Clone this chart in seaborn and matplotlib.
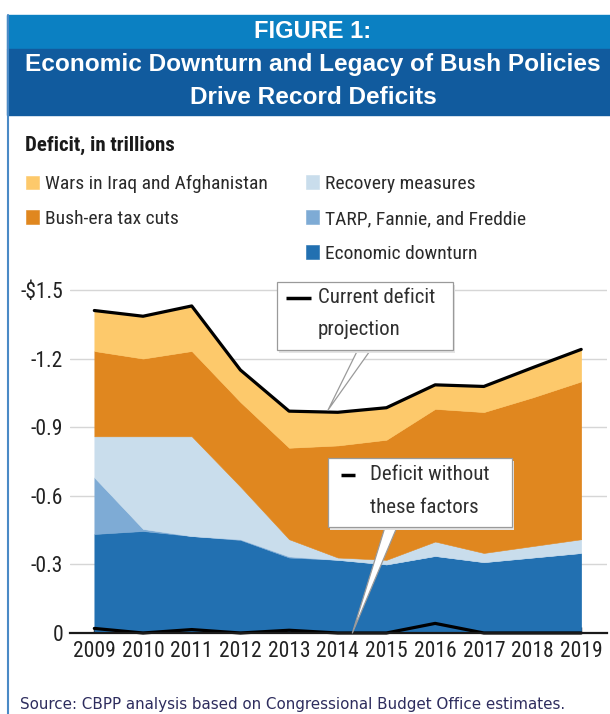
import matplotlib.pyplot as plt
import seaborn as sns
import pandas as pd
from matplotlib import font_manager
from matplotlib.patches import Rectangle

years = list(range(2009, 2020))
downturn = [0.433, 0.446, 0.424, 0.407, 0.33, 0.32, 0.30, 0.337, 0.31, 0.33, 0.35]
tarp = [0.247, 0.009, 0.0, 0.003, 0.005, 0.0, 0.0, 0.0, 0.0, 0.0, 0.0]
recovery = [0.18, 0.405, 0.436, 0.23, 0.075, 0.01, 0.02, 0.063, 0.04, 0.05, 0.06]
tax_cuts = [0.373, 0.34, 0.373, 0.37, 0.40, 0.49, 0.525, 0.58, 0.616, 0.65, 0.69]
wars = [0.177, 0.185, 0.197, 0.14, 0.16, 0.145, 0.14, 0.105, 0.112, 0.13, 0.14]
current_deficit = [1.41, 1.385, 1.43, 1.15, 0.97, 0.965, 0.985, 1.085, 1.078, 1.16, 1.24]
no_factors = [0.02, 0.0, 0.015, 0.0, 0.012, 0.0, 0.0, 0.042, 0.0, 0.0, 0.0]

series_labels = ['Economic downturn', 'TARP, Fannie, and Freddie', 'Recovery measures',
                 'Bush-era tax cuts', 'Wars in Iraq and Afghanistan']
series_colors = ['#2270b1', '#7eabd5', '#c9ddec', '#e0871f', '#fdc96b']
ytick_vals = [0, 0.3, 0.6, 0.9, 1.2, 1.5]
ytick_labels = ['0', '-0.3', '-0.6', '-0.9', '-1.2', '-$1.5']

sns.set_style('white')

# look for a condensed face; the original uses a narrow type
fonts = font_manager.fontManager.ttflist
names = {f.name for f in fonts}
narrow, stretch, k = 'DejaVu Sans', 'normal', 0.78
for nm in ['Roboto Condensed', 'Liberation Sans Narrow', 'Open Sans Condensed',
           'Noto Sans Condensed', 'DejaVu Sans Condensed', 'Arial Narrow']:
    if nm in names:
        narrow, k = nm, 1.0
        break
else:
    for base in ['Roboto', 'Noto Sans', 'Open Sans', 'DejaVu Sans', 'Liberation Sans']:
        if any(f.name == base and 'condensed' in str(f.stretch) for f in fonts):
            narrow, stretch, k = base, 'condensed', 0.9
            break
plt.rcParams['font.family'] = [narrow, 'DejaVu Sans']
plt.rcParams['font.stretch'] = stretch

W, H = 610, 714
fig = plt.figure(figsize=(W / 100, H / 100), dpi=100)
ax = fig.add_axes([70 / W, 1 - 633 / H, 537 / W, 354.5 / H])

# header bands and frame
fig.add_artist(Rectangle((7 / W, 1 - 49 / H), 1, 34 / H, transform=fig.transFigure,
                         color='#0b80c2', zorder=0))
fig.add_artist(Rectangle((7 / W, 1 - 115 / H), 1, 66 / H, transform=fig.transFigure,
                         color='#115b9e', zorder=0))
fig.add_artist(plt.Line2D([7.5 / W, 7.5 / W], [0, 1 - 15 / H], transform=fig.transFigure,
                          color='#4b8ac6', lw=1.5))

head_font = ['Liberation Sans', 'DejaVu Sans']
fig.text(313 / W, 1 - 31 / H, 'FIGURE 1:', color='white', fontsize=17, weight='bold',
         ha='center', va='center', family=head_font, stretch='normal')
fig.text(313 / W, 1 - 64 / H, 'Economic Downturn and Legacy of Bush Policies', color='white',
         fontsize=17.6, weight='bold', ha='center', va='center', family=head_font, stretch='normal')
fig.text(313 / W, 1 - 97 / H, 'Drive Record Deficits', color='white', fontsize=17.6,
         weight='bold', ha='center', va='center', family=head_font, stretch='normal')

fig.text(25 / W, 1 - 145 / H, 'Deficit, in trillions', fontsize=15 * k, weight='bold',
         color='#1a1a1a', ha='left', va='center')

# stacked areas
polys = ax.stackplot(years, downturn, tarp, recovery, tax_cuts, wars,
                     colors=series_colors, labels=series_labels,
                     edgecolor='face', linewidth=0.4, zorder=2)

df = pd.DataFrame({'year': years, 'current': current_deficit, 'base': no_factors})
sns.lineplot(data=df, x='year', y='current', color='black', lw=2.3, ax=ax, zorder=4)
sns.lineplot(data=df, x='year', y='base', color='black', lw=2.3, ax=ax, zorder=4, clip_on=False)

ax.set_xlim(2008.5, 2019.53)
ax.set_ylim(0, 1.55)
ax.set_xticks(years)
ax.set_xticklabels([str(y) for y in years], fontsize=15.5 * k, color='#222222')
ax.set_yticks(ytick_vals)
ax.set_yticklabels(ytick_labels, fontsize=15.5 * k, color='#222222')
ax.set_xlabel('')
ax.set_ylabel('')
ax.grid(axis='y', color='#d6d6d6', lw=1, zorder=0)
ax.set_axisbelow(True)
for side in ['top', 'right', 'left']:
    ax.spines[side].set_visible(False)
ax.spines['bottom'].set_color('#1a1a1a')
ax.spines['bottom'].set_linewidth(1.6)
ax.spines['bottom'].set_zorder(5)
ax.tick_params(axis='x', direction='in', length=4, width=1, color='#1a1a1a', pad=6, bottom=True)
ax.tick_params(axis='y', length=0, pad=5)

# legend, two columns placed separately
leg_fs = 14 * k
row_px = 35.5
leg_kw = dict(loc='upper left', bbox_transform=fig.transFigure, frameon=False,
              fontsize=leg_fs, handlelength=13.5 / (leg_fs * 1.389),
              handleheight=13.5 / (leg_fs * 1.389), handletextpad=0.28,
              labelspacing=row_px / (leg_fs * 1.389) - 0.953, borderpad=0, borderaxespad=0,
              labelcolor='#2a2a2a')
leg1 = ax.legend([polys[4], polys[3]], [series_labels[4], series_labels[3]],
                 bbox_to_anchor=(26 / W, 1 - 175 / H), **leg_kw)
ax.add_artist(leg1)
ax.legend([polys[2], polys[1], polys[0]], [series_labels[2], series_labels[1], series_labels[0]],
          bbox_to_anchor=(306 / W, 1 - 175 / H), **leg_kw)

# callout boxes
def callout(x0, y0, x1, y1, lines, marker_x, text_x, base_x, tip):
    ax.annotate('', xy=tip, xycoords='data', xytext=(base_x, y0 + 0.01), textcoords='axes fraction',
                arrowprops=dict(arrowstyle='wedge,tail_width=0.7', fc='white', ec='#9a9a9a',
                                lw=0.9, mutation_scale=12, shrinkA=0, shrinkB=0),
                zorder=6, annotation_clip=False)
    ax.add_patch(Rectangle((x0 + 0.004, y0 - 0.008), x1 - x0, y1 - y0, transform=ax.transAxes,
                           fc='#e4e4e4', ec='none', zorder=6.5, clip_on=False))
    ax.add_patch(Rectangle((x0, y0), x1 - x0, y1 - y0, transform=ax.transAxes,
                           fc='white', ec='#9a9a9a', lw=0.9, zorder=7, clip_on=False))
    ax.plot(marker_x, [lines[0][1]] * 2, transform=ax.transAxes, color='black', lw=2.5,
            zorder=8, clip_on=False, solid_capstyle='butt')
    for txt, yy in lines:
        ax.text(text_x, yy, txt, transform=ax.transAxes, fontsize=15 * k, color='#2f2f2f',
                ha='left', va='center', zorder=8)

callout(0.3855, 0.798, 0.7132, 0.990,
        [('Current deficit', 0.946), ('projection', 0.855)],
        [0.4022, 0.4488], 0.4618, 0.551, (2013.8, 0.975))
callout(0.4804, 0.299, 0.8231, 0.4937,
        [('Deficit without', 0.446), ('these factors', 0.355)],
        [0.5047, 0.5307], 0.5587, 0.60, (2014.3, 0.0))

fig.text(20 / W, 1 - 705 / H, 'Source: CBPP analysis based on Congressional Budget Office estimates.',
         fontsize=10.9, color='#2e2d5e', ha='left', va='center', family=['DejaVu Sans'],
         stretch='normal')

plt.savefig('out.png', dpi=100)
